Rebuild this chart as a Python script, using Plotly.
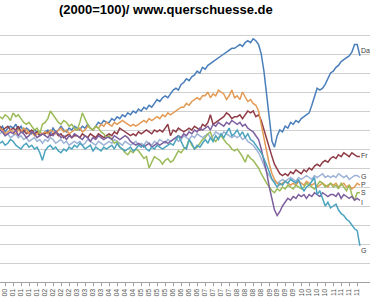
import pandas as pd
import plotly.graph_objects as go

# Monthly index values (2000=100), Jan 2000 .. Nov 2011
da = [100,101,99,102,100,103,101,100,102,99,101,102,
      101,103,100,102,99,101,100,98,100,99,97,98,
      99,100,98,101,99,100,102,100,99,101,100,102,
      101,100,102,101,103,101,100,102,104,103,105,104,
      104,106,105,107,106,108,107,109,108,110,109,111,
      110,112,111,113,112,114,116,115,117,118,117,119,
      121,122,121,124,125,127,126,128,129,131,130,133,
      132,134,135,136,137,138,139,140,141,142,143,143,
      144,145,144,146,147,146,148,147,145,140,131,120,
      106,94,91,97,100,99,102,101,104,103,105,104,
      106,107,108,109,113,118,122,121,122,124,127,130,
      131,133,134,136,137,138,139,141,145,145,139]
fr = [100,102,101,103,102,101,103,102,100,101,102,100,
      101,100,102,99,100,98,99,100,98,99,97,98,
      98,99,97,98,99,97,98,96,97,98,96,97,
      97,96,98,97,96,98,97,96,98,97,96,97,
      98,97,99,98,101,100,99,98,97,98,97,99,
      98,99,100,99,98,100,99,100,99,101,103,97,
      100,99,101,100,99,100,101,100,102,101,100,103,
      102,104,108,103,104,105,106,107,109,108,106,107,
      107,108,106,108,110,109,110,107,108,105,100,95,
      90,86,82,79,77,76,77,76,78,77,79,78,
      77,79,78,80,79,81,82,81,83,84,83,85,
      86,85,87,86,88,87,86,88,87,86,86]
gb = [100,99,101,98,100,99,97,98,99,97,98,96,
      97,98,96,97,95,96,94,95,96,94,95,93,
      95,94,96,95,93,94,95,93,94,92,93,94,
      93,94,92,93,95,94,93,92,94,93,92,93,
      94,93,95,94,93,92,94,93,92,93,94,92,
      93,92,94,93,92,94,93,95,94,93,95,94,
      95,96,94,95,97,96,95,97,96,98,97,96,
      97,98,96,97,99,98,97,99,98,97,96,97,
      96,97,95,96,94,93,92,90,88,85,81,78,
      76,74,73,72,73,74,73,74,75,74,73,75,
      74,75,76,75,74,76,75,76,77,75,76,75,
      76,75,77,76,75,76,74,75,76,76,75]
pt = [101,100,102,103,101,100,99,101,100,98,99,100,
      99,98,100,99,101,100,98,99,97,98,99,98,
      99,98,100,99,98,100,101,99,100,98,99,100,
      100,101,99,100,102,101,100,102,101,103,102,104,
      103,102,104,103,104,105,104,103,102,103,102,103,
      104,105,104,106,105,106,107,106,108,107,109,108,
      109,110,111,112,112,114,113,115,116,117,116,118,
      118,120,117,119,118,121,120,119,116,118,121,117,
      118,116,120,117,115,116,114,113,110,103,96,90,
      82,77,74,72,71,72,73,72,71,72,71,73,
      72,71,73,72,71,72,70,71,72,71,70,72,
      71,72,70,71,72,70,71,69,70,72,71]
es = [102,104,103,105,104,106,105,107,106,108,107,105,
      109,107,108,106,104,103,104,102,100,101,98,103,
      104,106,110,108,106,104,103,105,104,102,103,101,
      100,104,109,106,103,101,100,102,101,99,98,96,
      97,95,93,94,91,90,88,87,89,88,90,89,
      87,85,86,80,83,86,85,84,82,84,85,83,
      84,87,89,88,90,91,95,92,90,91,93,95,
      96,98,99,95,94,96,97,95,93,92,90,89,
      90,88,86,83,87,85,84,82,80,77,74,72,
      70,68,67,69,68,70,69,71,70,69,71,70,
      69,70,72,71,70,69,71,73,72,70,71,72,
      70,71,69,72,70,68,71,66,63,67,67]
it = [99,100,98,101,99,100,102,100,99,97,98,99,
      98,100,97,99,98,96,97,99,98,96,97,98,
      97,96,98,97,99,98,96,97,95,97,96,98,
      97,96,95,97,96,94,96,95,97,96,95,96,
      96,95,97,96,95,96,97,96,94,93,92,93,
      92,91,92,93,91,92,93,92,93,94,93,94,
      95,96,97,96,98,97,99,98,100,99,101,100,
      101,102,100,103,102,104,103,102,104,103,105,104,
      103,104,102,103,101,100,99,97,95,90,84,78,
      70,64,58,55,57,60,62,64,63,65,64,66,
      65,66,64,66,65,67,66,65,67,66,65,66,
      66,65,67,64,66,65,64,65,63,64,63]
gr = [98,96,97,95,96,94,95,93,94,92,93,95,
      94,92,91,90,92,93,91,92,90,91,88,84,
      89,91,92,90,91,89,88,90,89,91,90,92,
      91,93,92,90,91,92,89,91,90,89,91,90,
      91,92,90,93,91,90,89,90,91,89,90,92,
      91,92,90,89,91,90,92,91,90,91,92,93,
      92,95,97,94,91,90,95,93,90,92,91,93,
      95,93,96,94,97,95,98,96,99,101,97,98,
      100,97,99,96,98,95,94,92,90,88,85,82,
      78,74,72,70,72,71,73,72,74,73,72,74,
      70,68,70,71,73,75,66,68,64,60,62,59,
      60,61,58,56,55,53,52,50,48,47,39]

# (label, values, colour, label y-offset in px)
series = [("Da", da, "#4A7EBB", 5),
          ("Fr", fr, "#8E3B46", 1),
          ("G", gb, "#9DB3D6", 1),
          ("P", pt, "#E29A55", 1),
          ("S", es, "#9BBB59", 0),
          ("I", it, "#7E5F9E", -2),
          ("G", gr, "#4BA3BE", -5)]

dates = pd.date_range("2000-01-01", periods=len(da), freq="MS")
tick_dates = pd.date_range("2000-01-01", "2011-12-01", freq="QS")
tick_text = [f"{d.year % 100:02d}" for d in tick_dates]

fig = go.Figure()
for name, vals, col, _ in series:
    fig.add_trace(go.Scatter(x=dates, y=vals, mode="lines", name=name,
                             line=dict(color=col, width=1.5), showlegend=False))

for name, vals, col, ysh in series:
    fig.add_annotation(x=dates[-1], y=vals[-1], text=name, showarrow=False,
                       xanchor="left", yanchor="middle", xshift=0, yshift=ysh,
                       borderpad=0,
                       font=dict(family="Liberation Sans, Arial", size=7, color="#404040"))

fig.add_annotation(x=166/370, y=1, xref="paper", yref="paper", yanchor="middle",
                   yshift=7, showarrow=False, borderpad=0,
                   text="<b>(2000=100)/ www.querschuesse.de</b>",
                   font=dict(family="Liberation Sans, Arial", size=13, color="#000000"))

fig.update_layout(width=370, height=297, margin=dict(l=0, r=0, t=16, b=11),
                  paper_bgcolor="white", plot_bgcolor="white")
fig.update_xaxes(type="date", range=["2000-08-04", "2012-02-24"],
                 tickvals=tick_dates, ticktext=tick_text, tickangle=-90,
                 tickfont=dict(family="Liberation Sans, Arial", size=7, color="#555555"),
                 showgrid=False, showline=True, linecolor="#A0A0A0", linewidth=1,
                 ticks="outside", ticklen=3, tickcolor="#A0A0A0", zeroline=False)
fig.update_yaxes(range=[20, 160], dtick=10, showticklabels=False, showgrid=True,
                 gridcolor="#CFCFCF", gridwidth=1, zeroline=False, showline=False)

fig.write_html("out.html")
